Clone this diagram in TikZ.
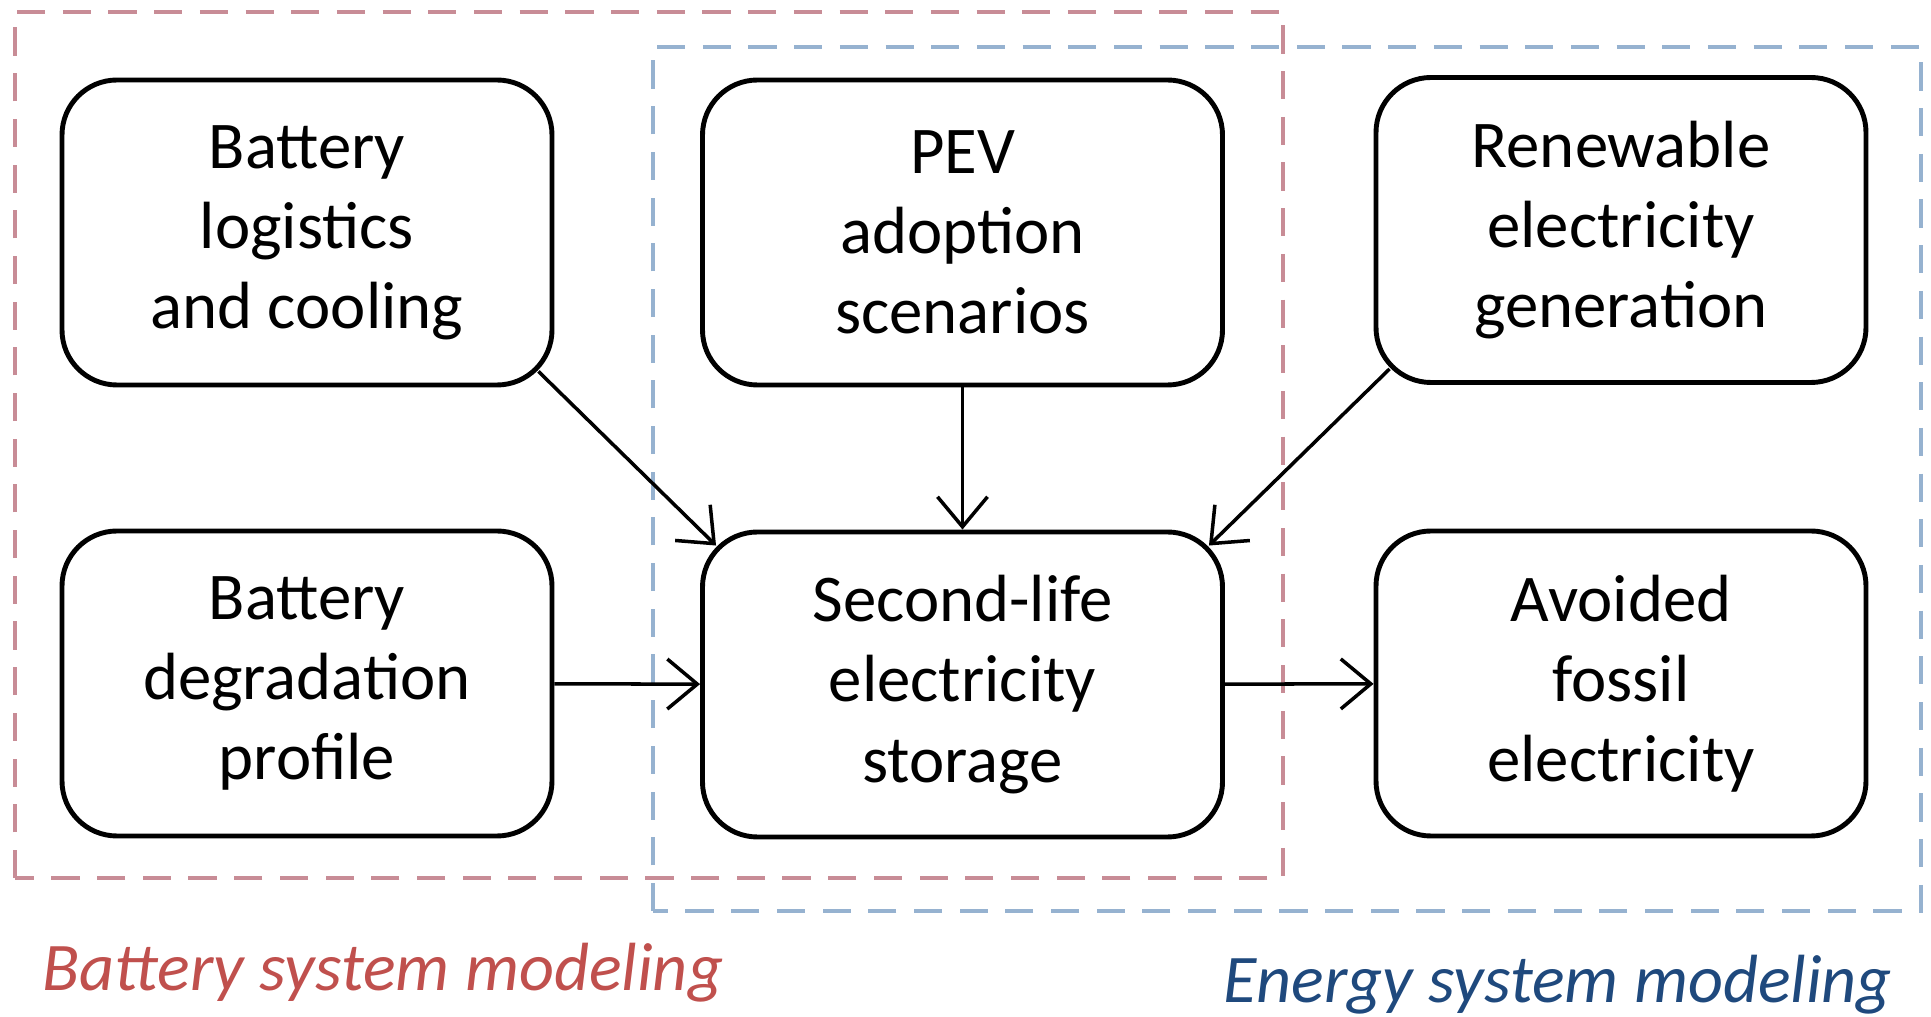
\documentclass[tikz,border=0pt]{standalone}
\usepackage{fontspec}
\setmainfont{Carlito}
\usetikzlibrary{arrows.meta}
\definecolor{batline}{RGB}{200,140,150}
\definecolor{enline}{RGB}{150,178,208}
\definecolor{battext}{RGB}{192,80,77}
\definecolor{entext}{RGB}{31,73,125}

\begin{document}
\begin{tikzpicture}[x=1cm,y=1cm,
    block/.style={draw,line width=1.4pt,rounded corners=0.55cm,align=center,
      minimum width=4.9cm,minimum height=3.05cm,inner sep=0pt,
      font=\fontsize{19}{22.8}\selectfont},
    wide/.style={minimum width=5.2cm},
    region/.style={line width=1.1pt,dash pattern=on 8pt off 5pt},
    flow/.style={line width=1pt,-{Straight Barb[length=3mm,width=5mm]}},
    caption/.style={font=\fontsize{19.4}{23}\selectfont\itshape}]
      \useasboundingbox (0,0) rectangle (19.31,10.16);
      \draw[region,batline] (0.15,1.38) rectangle (12.83,10.04);
      \draw[region,enline] (6.53,1.05) rectangle (19.21,9.69);
      \node[block] (logi) at (3.07,7.835) {Battery\\logistics\\and cooling};
      \node[block,wide] (pev) at (9.625,7.835) {PEV\\adoption\\scenarios};
      \node[block] (renew) at (16.21,7.86) {Renewable\\electricity\\generation};
      \node[block] (degr) at (3.07,3.325) {Battery\\degradation\\profile};
      \node[block,wide] (second) at (9.625,3.315) {Second-life\\electricity\\storage};
      \node[block] (avoid) at (16.21,3.325) {Avoided\\fossil\\electricity};
      \draw[flow] ([shift={(-0.16,0.16)}]logi.south east) -- ([shift={(0.16,-0.16)}]second.north west);
      \draw[flow] (pev) -- (second);
      \draw[flow] ([shift={(0.16,0.16)}]renew.south west) -- ([shift={(-0.16,-0.16)}]second.north east);
      \draw[flow] (degr) -- (second);
      \draw[flow] (second) -- (avoid);
      \node[caption,battext] (batcap) at (3.83,0.43) {Battery system modeling};
      \node[caption,entext] (encap) at (15.58,0.31) {Energy system modeling};
    \end{tikzpicture}
\end{document}
